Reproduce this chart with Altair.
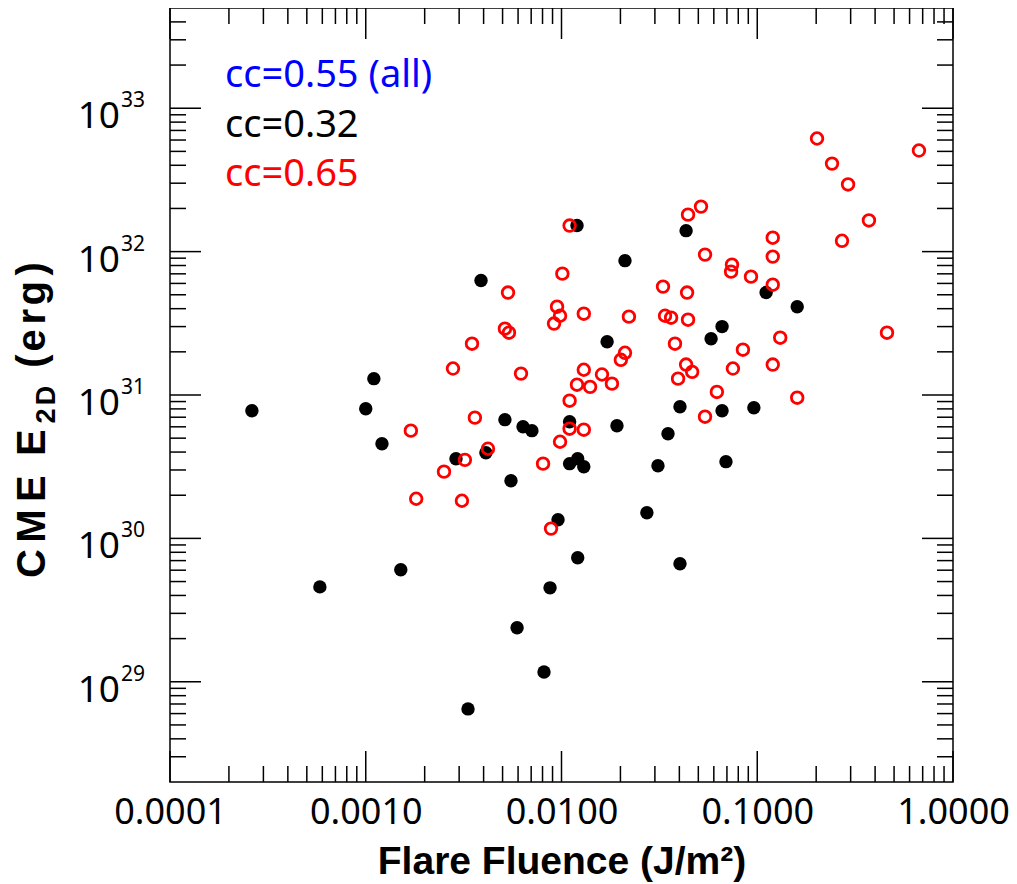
import altair as alt
import pandas as pd

# ---------------- data ----------------
BLACK_FLUENCE = [2.62e-4, 5.83e-4, 1.00e-3, 1.10e-3, 1.21e-3, 1.51e-3, 2.89e-3, 3.33e-3, 3.88e-3, 4.11e-3,
                 5.14e-3, 5.52e-3, 5.93e-3, 6.36e-3, 7.06e-3, 8.14e-3, 8.74e-3, 9.60e-3, 1.10e-2, 1.10e-2,
                 1.21e-2, 1.30e-2, 1.21e-2, 1.20e-2, 1.71e-2, 1.92e-2, 2.11e-2, 2.73e-2, 3.11e-2, 3.50e-2,
                 4.03e-2, 4.03e-2, 4.33e-2, 5.81e-2, 6.61e-2, 6.61e-2, 6.92e-2, 9.61e-2, 0.111, 0.160]
BLACK_ENERGY = [7.77e30, 4.59e29, 8.02e30, 1.30e31, 4.57e30, 6.04e29, 3.59e30, 6.47e28, 6.28e31, 3.96e30,
                6.73e30, 2.52e30, 2.38e29, 6.01e30, 5.64e30, 1.17e29, 4.52e29, 1.35e30, 6.51e30, 3.32e30,
                3.59e30, 3.16e30, 7.32e29, 1.52e32, 2.35e31, 6.11e30, 8.65e31, 1.51e30, 3.21e30, 5.37e30,
                8.28e30, 6.65e29, 1.40e32, 2.47e31, 3.00e31, 7.77e30, 3.43e30, 8.15e30, 5.18e31, 4.13e31]

RED_FLUENCE = [1.10e-2, 5.33e-3, 1.01e-2, 0.202, 0.241, 0.291, 0.670, 5.16e-2, 4.43e-2, 0.372,
               0.271, 0.120, 0.120, 5.41e-2, 7.43e-2, 7.35e-2, 9.29e-2, 3.30e-2, 4.38e-2, 0.120,
               9.49e-3, 9.83e-3, 9.16e-3, 1.30e-2, 2.21e-2, 3.38e-2, 3.63e-2, 4.43e-2, 0.460, 0.131,
               3.80e-2, 8.45e-2, 2.11e-2, 2.01e-2, 0.120, 1.30e-2, 1.61e-2, 4.33e-2, 4.65e-2, 7.51e-2,
               3.94e-2, 1.20e-2, 1.40e-2, 1.81e-2, 6.22e-2, 0.160, 1.10e-2, 5.41e-2, 1.10e-2, 1.30e-2,
               9.83e-3, 8.05e-3, 8.84e-3, 5.14e-3, 5.39e-3, 3.49e-3, 2.79e-3, 6.21e-3, 3.61e-3, 1.70e-3,
               4.21e-3, 3.21e-3, 2.51e-3, 1.81e-3, 3.10e-3]
RED_ENERGY = [1.52e32, 5.18e31, 7.02e31, 6.15e32, 4.11e32, 2.94e32, 5.07e32, 2.06e32, 1.81e32, 1.65e32,
              1.19e32, 1.25e32, 9.23e31, 9.53e31, 8.11e31, 7.25e31, 6.69e31, 5.70e31, 5.18e31, 5.88e31,
              4.13e31, 3.57e31, 3.15e31, 3.69e31, 3.52e31, 3.57e31, 3.46e31, 3.35e31, 2.72e31, 2.51e31,
              2.28e31, 2.07e31, 1.97e31, 1.76e31, 1.63e31, 1.50e31, 1.39e31, 1.63e31, 1.45e31, 1.53e31,
              1.30e31, 1.18e31, 1.14e31, 1.20e31, 1.05e31, 9.58e30, 9.13e30, 7.06e30, 5.82e30, 5.73e30,
              4.72e30, 3.32e30, 1.17e30, 2.90e31, 2.72e31, 2.28e31, 1.53e31, 1.41e31, 6.95e30, 5.64e30,
              4.22e30, 3.53e30, 2.92e30, 1.89e30, 1.83e30]

X_DOMAIN = [1e-4, 1.0]
Y_DOMAIN = [2e28, 5e33]
X_MAJOR = [1e-4, 1e-3, 1e-2, 1e-1, 1.0]
Y_MAJOR = [1e29, 1e30, 1e31, 1e32, 1e33]
Y_EXPONENTS = ["29", "30", "31", "32", "33"]
MINOR_STEPS = [2, 3, 4, 5, 6, 7, 8, 9]
X_DECADES = [-4, -3, -2, -1]
Y_DECADES = [28, 29, 30, 31, 32, 33]
X_MINOR = [k * 10.0 ** e for e in X_DECADES for k in MINOR_STEPS]
Y_MINOR = [k * 10.0 ** e for e in Y_DECADES for k in MINOR_STEPS if Y_DOMAIN[0] < k * 10.0 ** e < Y_DOMAIN[1]]

ANNOT_TEXT = ["cc=0.55 (all)", "cc=0.32", "cc=0.65"]
ANNOT_COLORS = ["#0000ff", "#000000", "#ff0000"]

X_TITLE = "Flare Fluence (J/m²)"
# y title "CME E_2D (erg)": characters, subscript flag, advance width (em)
Y_TITLE_CHARS = ["C", "M", "E", " ", "E", "2", "D", " ", "(", "e", "r", "g", ")"]
Y_TITLE_SUB = [False, False, False, False, False, True, True, False, False, False, False, False, False]
Y_TITLE_EM = [0.722, 0.833, 0.667, 0.278, 0.667, 0.556, 0.722, 0.278, 0.333, 0.556, 0.389, 0.611, 0.333]

# ---------------- layout ----------------
W, H = 783, 774
MAJ, MIN = 31, 16
TICK_W = 1.5
LABEL_FONT = "Noto Sans"
TITLE_FONT = "Liberation Sans"

XS = alt.Scale(type="log", domain=X_DOMAIN, nice=False)
YS = alt.Scale(type="log", domain=Y_DOMAIN, nice=False)

X_AXIS = alt.Axis(values=X_MAJOR, format=".4f", ticks=False, tickSize=0, domain=False, grid=False,
                  labelFont=LABEL_FONT, labelFontSize=36, labelColor="black",
                  labelBaseline="alphabetic", labelPadding=41, labelFlush=False, labelOverlap=False,
                  title=X_TITLE, titleFont=TITLE_FONT, titleFontSize=39, titleFontWeight="bold",
                  titleColor="black", titleBaseline="alphabetic", titleY=91, titleX=W / 2,
                  titleAlign="center")
X_ENC = alt.X("x:Q", scale=XS, axis=X_AXIS)
Y_ENC = alt.Y("y:Q", scale=YS, axis=None)

black_df = pd.DataFrame({"x": BLACK_FLUENCE, "y": BLACK_ENERGY})
red_df = pd.DataFrame({"x": RED_FLUENCE, "y": RED_ENERGY})

black = alt.Chart(black_df).mark_circle(size=180, color="black", opacity=1).encode(x=X_ENC, y=Y_ENC)
red = alt.Chart(red_df).mark_point(shape="circle", filled=False, size=135, strokeWidth=2.8,
                                   color="#ff0000", opacity=1).encode(x=X_ENC, y=Y_ENC)

layers = [black, red]

# tick marks pointing inward on all four sides
for vals, ln in ((X_MAJOR, MAJ), (X_MINOR, MIN)):
    d = pd.DataFrame({"x": vals})
    layers.append(alt.Chart(d).mark_rule(color="black", strokeWidth=TICK_W).encode(
        x=X_ENC, y=alt.value(H), y2=alt.value(H - ln)))
    layers.append(alt.Chart(d).mark_rule(color="black", strokeWidth=TICK_W).encode(
        x=X_ENC, y=alt.value(0), y2=alt.value(ln)))
for vals, ln in ((Y_MAJOR, MAJ), (Y_MINOR, MIN)):
    d = pd.DataFrame({"y": vals})
    layers.append(alt.Chart(d).mark_rule(color="black", strokeWidth=TICK_W).encode(
        y=Y_ENC, x=alt.value(0), x2=alt.value(ln)))
    layers.append(alt.Chart(d).mark_rule(color="black", strokeWidth=TICK_W).encode(
        y=Y_ENC, x=alt.value(W), x2=alt.value(W - ln)))

# y tick labels 10^n
ylab = pd.DataFrame({"y": Y_MAJOR, "base": ["10"] * len(Y_MAJOR), "exp": Y_EXPONENTS})
layers.append(alt.Chart(ylab).mark_text(align="right", baseline="alphabetic", dy=20, fontSize=37,
                                        font=LABEL_FONT, color="black").encode(
    x=alt.value(-50), y=Y_ENC, text="base:N"))
layers.append(alt.Chart(ylab).mark_text(align="left", baseline="alphabetic", dy=-1, fontSize=21,
                                        font=LABEL_FONT, color="black").encode(
    x=alt.value(-49), y=Y_ENC, text="exp:N"))

# y title (rotated), letter by letter with a slightly stretched advance
FS_MAIN, FS_SUB, STRETCH = 40, 27, 1.22
pos = 570.0
for ch, sub, em in zip(Y_TITLE_CHARS, Y_TITLE_SUB, Y_TITLE_EM):
    fs = FS_SUB if sub else FS_MAIN
    if ch != " ":
        d = pd.DataFrame({"t": [ch]})
        layers.append(alt.Chart(d).mark_text(angle=270, align="left", baseline="alphabetic", fontSize=fs,
                                             font=TITLE_FONT, fontWeight="bold", color="black").encode(
            x=alt.value(-115 if sub else -125), y=alt.value(pos), text="t:N"))
    pos -= em * fs * STRETCH

# correlation annotations
for i, ypos in enumerate((79, 129, 178)):
    d = pd.DataFrame({"t": [ANNOT_TEXT[i]]})
    layers.append(alt.Chart(d).mark_text(align="left", baseline="alphabetic", fontSize=38,
                                         font=LABEL_FONT, color=ANNOT_COLORS[i]).encode(
        x=alt.value(55), y=alt.value(ypos), text="t:N"))

chart = alt.layer(*layers).properties(
    width=W, height=H,
    padding={"left": 162, "top": 0, "right": 56, "bottom": 100},
    autosize=alt.AutoSizeParams(type="none"),
).configure_view(stroke="black", strokeWidth=1.5)

chart.save("out.html", embed_options={"renderer": "svg", "actions": False})
